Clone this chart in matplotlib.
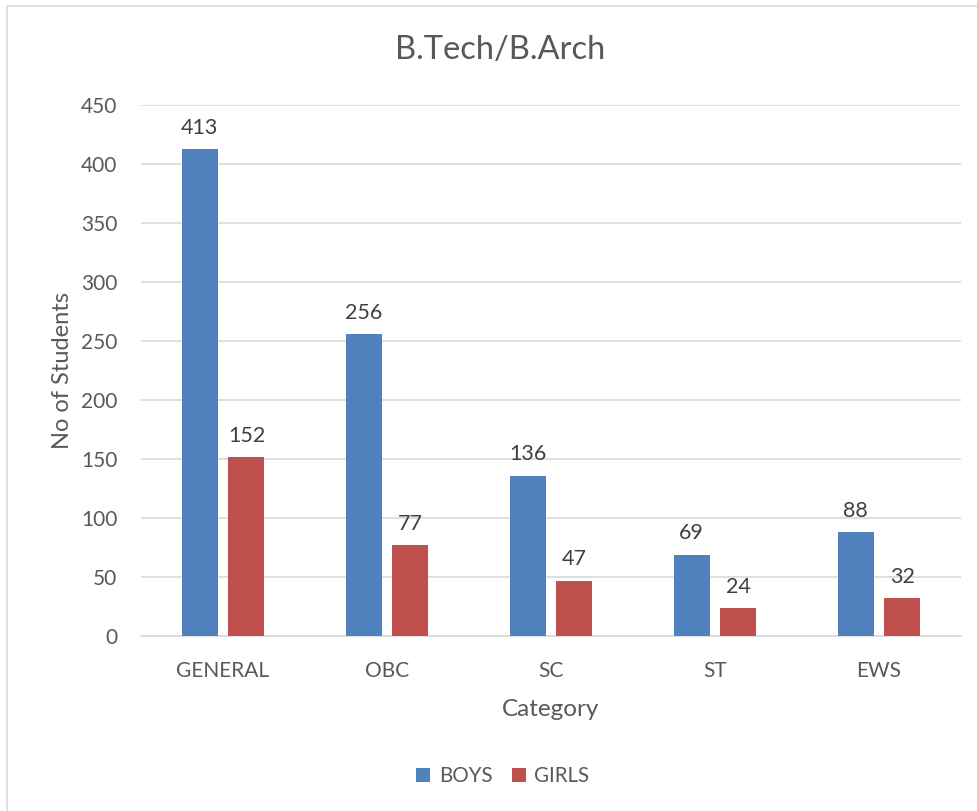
import matplotlib
matplotlib.use("Agg")
import matplotlib.pyplot as plt
import numpy as np
from matplotlib.lines import Line2D

categories = ["GENERAL", "OBC", "SC", "ST", "EWS"]
boys = [413, 256, 136, 69, 88]
girls = [152, 77, 47, 24, 32]
yticks = [0, 50, 100, 150, 200, 250, 300, 350, 400, 450]

plt.rcParams['font.family'] = ['Lato', 'DejaVu Sans']
TXT = '#595959'
BLUE = '#4f81bd'
RED = '#c0504d'

fig = plt.figure(figsize=(9.78, 8.11), dpi=100)
ax = fig.add_axes([141/978, 1-636/811, 820/978, (636-105)/811])

x = np.arange(len(categories))
w = 0.22
off = 0.143
b1 = ax.bar(x - off, boys, w, color=BLUE, label='BOYS', zorder=3)
b2 = ax.bar(x + off, girls, w, color=RED, label='GIRLS', zorder=3)
for bars, vals in ((b1, boys), (b2, girls)):
    for r, v in zip(bars, vals):
        ax.annotate(str(v), (r.get_x() + r.get_width()/2, v), xytext=(0, 8),
                    textcoords='offset points', ha='center', va='bottom',
                    fontsize=15.5, color='#404040')

ax.set_xlim(-0.5, len(categories) - 0.5)
ax.set_ylim(0, 450)
ax.set_yticks(yticks)
ax.set_xticks(x)
ax.set_xticklabels(categories)
ax.yaxis.grid(True, color='#d9d9d9', linewidth=1.2, zorder=0)
ax.set_axisbelow(True)
for s in ['top', 'right', 'left']:
    ax.spines[s].set_visible(False)
ax.spines['bottom'].set_color('#d9d9d9')
ax.spines['bottom'].set_linewidth(1.2)
ax.tick_params(axis='both', length=0, labelsize=15, colors=TXT)
ax.tick_params(axis='x', pad=18)
ax.tick_params(axis='y', pad=17)

ax.set_xlabel('Category', fontsize=17.5, color=TXT, labelpad=13)
ax.set_ylabel('No of Students', fontsize=17, color=TXT, labelpad=6)
fig.text(0.511, 1-50/811, 'B.Tech/B.Arch', ha='center', va='center', fontsize=23.5, color=TXT)

fig.legend(handles=[b1, b2], labels=['BOYS', 'GIRLS'], loc='center', bbox_to_anchor=(0.514, 1-776/811),
           ncol=2, frameon=False, fontsize=14.8, labelcolor=TXT, handlelength=0.7, handleheight=0.7,
           columnspacing=0.95, handletextpad=0.4)

fig.add_artist(Line2D([7.5/978, 7.5/978], [0, 1-5.5/811], color='#d9d9d9', linewidth=1.2, transform=fig.transFigure))
fig.add_artist(Line2D([7.5/978, 1], [1-5.5/811, 1-5.5/811], color='#d9d9d9', linewidth=1.2, transform=fig.transFigure))

fig.savefig('out.png', dpi=100)
